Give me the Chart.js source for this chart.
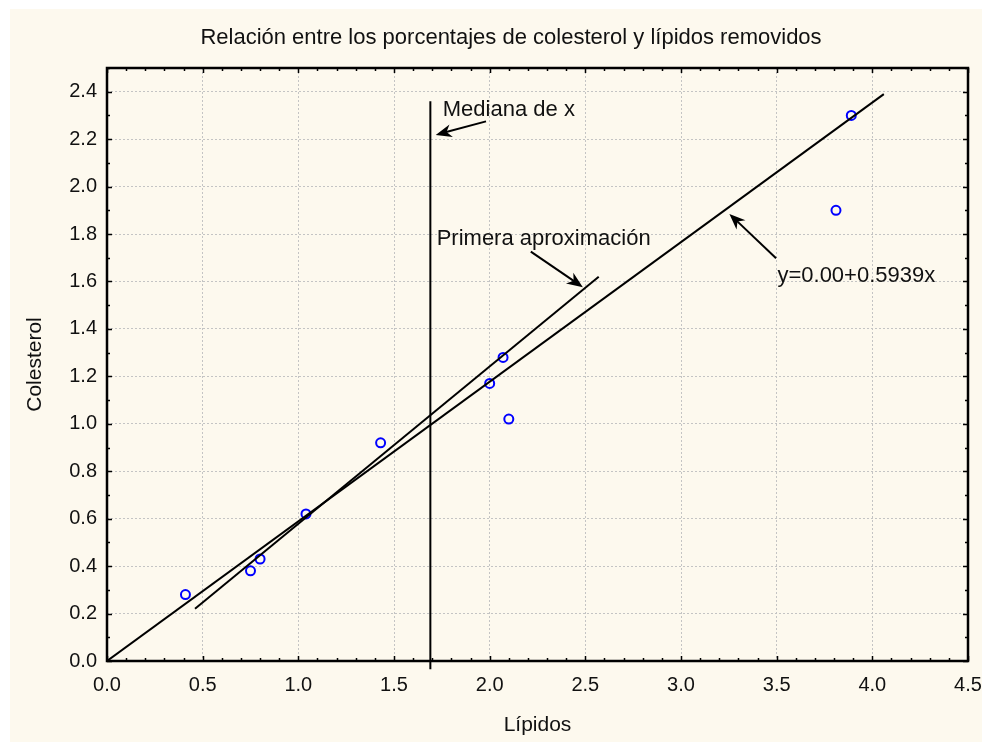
<!DOCTYPE html>
<html lang="es">
<head>
  <meta charset="UTF-8">
  <title>Colesterol vs Lípidos</title>
  <script src="https://cdn.jsdelivr.net/npm/chart.js"></script>
  <style>
    html, body { margin: 0; padding: 0; background: #ffffff; }
    #wrap { position: absolute; left: 10px; top: 9px; width: 972px; height: 733px; background: #fdf9ee; }
  </style>
</head>
<body>
  <div id="wrap"><canvas id="myChart" width="972" height="733"></canvas></div>

  <script>
    // datos
    const lipidos    = [0.41, 0.75, 0.80, 1.04, 1.43, 2.00, 2.07, 2.10, 3.81, 3.89];
    const colesterol = [0.28, 0.38, 0.43, 0.62, 0.92, 1.17, 1.28, 1.02, 1.90, 2.30];

    // recta final y = 0.00 + 0.5939x (extremos del trazo)
    const rectaX = [0, 4.06];
    const rectaY = [0, 2.39];
    // primera aproximacion
    const primeraX = [0.46, 2.57];
    const primeraY = [0.22, 1.62];
    // mediana de x (linea vertical)
    const medianaX = [1.69, 1.69];
    const medianaY = [-0.035, 2.36];

    // etiquetas y flechas (en unidades de los ejes)
    const notaTextos = ['Mediana de x', 'Primera aproximación', 'y=0.00+0.5939x'];
    const notaX      = [1.755, 1.723, 3.504];
    const notaY      = [2.299, 1.752, 1.597];
    const flechaDesdeX = [1.981, 2.215, 3.497];
    const flechaDesdeY = [2.275, 1.726, 1.698];
    const flechaHastaX = [1.718, 2.487, 3.253];
    const flechaHastaY = [2.218, 1.576, 1.885];

    const fuente = 'Liberation Sans, Arial, sans-serif';

    function esMayor(v, paso) {
      const r = v / paso;
      return Math.abs(r - Math.round(r)) < 1e-6;
    }

    function pares(xs, ys) {
      return xs.map((x, i) => ({ x: x, y: ys[i] }));
    }

    // marco, marcas hacia dentro y anotaciones con flechas
    const marcoPlugin = {
      id: 'marco',
      afterDraw(chart) {
        const ctx = chart.ctx;
        const a = chart.chartArea;
        const sx = chart.scales.x, sy = chart.scales.y;
        ctx.save();
        ctx.strokeStyle = '#000';
        ctx.lineWidth = 1.5;
        ctx.beginPath();
        sx.ticks.forEach(t => {
          const px = Math.round(sx.getPixelForValue(t.value)) + 0.5;
          const len = esMayor(t.value, 0.5) ? 5 : 3;
          ctx.moveTo(px, a.bottom); ctx.lineTo(px, a.bottom - len);
          ctx.moveTo(px, a.top); ctx.lineTo(px, a.top + len);
        });
        sy.ticks.forEach(t => {
          const py = Math.round(sy.getPixelForValue(t.value)) + 0.5;
          const len = esMayor(t.value, 0.2) ? 5 : 3;
          ctx.moveTo(a.left, py); ctx.lineTo(a.left + len, py);
          ctx.moveTo(a.right, py); ctx.lineTo(a.right - len, py);
        });
        ctx.stroke();

        ctx.lineWidth = 2.5;
        ctx.strokeRect(a.left, a.top, a.right - a.left, a.bottom - a.top);

        // flechas
        ctx.lineWidth = 2;
        ctx.fillStyle = '#000';
        for (let i = 0; i < notaTextos.length; i++) {
          const x1 = sx.getPixelForValue(flechaDesdeX[i]), y1 = sy.getPixelForValue(flechaDesdeY[i]);
          const x2 = sx.getPixelForValue(flechaHastaX[i]), y2 = sy.getPixelForValue(flechaHastaY[i]);
          const ang = Math.atan2(y2 - y1, x2 - x1);
          const L = 16, W = 6.5;
          ctx.beginPath();
          ctx.moveTo(x1, y1);
          ctx.lineTo(x2 - Math.cos(ang) * 8, y2 - Math.sin(ang) * 8);
          ctx.stroke();
          ctx.save();
          ctx.translate(x2, y2);
          ctx.rotate(ang);
          ctx.beginPath();
          ctx.moveTo(0, 0);
          ctx.lineTo(-L, -W);
          ctx.lineTo(-L * 0.7, 0);
          ctx.lineTo(-L, W);
          ctx.closePath();
          ctx.fill();
          ctx.restore();
        }

        ctx.font = '22px ' + fuente;
        ctx.fillStyle = '#111';
        ctx.textAlign = 'left';
        ctx.textBaseline = 'alphabetic';
        for (let i = 0; i < notaTextos.length; i++) {
          ctx.fillText(notaTextos[i], sx.getPixelForValue(notaX[i]), sy.getPixelForValue(notaY[i]));
        }
        ctx.restore();
      }
    };

    const lineaNegra = {
      type: 'line',
      showLine: true,
      borderColor: '#000',
      borderWidth: 2,
      pointRadius: 0,
      fill: false
    };

    const ctx = document.getElementById('myChart').getContext('2d');
    const myChart = new Chart(ctx, {
      type: 'scatter',
      data: {
        datasets: [
          Object.assign({ label: 'recta', data: pares(rectaX, rectaY) }, lineaNegra),
          Object.assign({ label: 'primera', data: pares(primeraX, primeraY) }, lineaNegra),
          Object.assign({ label: 'mediana', data: pares(medianaX, medianaY), clip: false }, lineaNegra),
          {
            label: 'datos',
            data: pares(lipidos, colesterol),
            pointStyle: 'circle',
            pointRadius: 4.5,
            pointBorderWidth: 2,
            borderColor: '#0000ff',
            backgroundColor: 'rgba(0,0,0,0)'
          }
        ]
      },
      options: {
        responsive: false,
        animation: false,
        devicePixelRatio: 1,
        layout: { padding: { left: 30, right: 0, top: 0, bottom: 0 } },
        plugins: {
          legend: { display: false },
          tooltip: { enabled: false },
          title: {
            display: true,
            text: 'Relación entre los porcentajes de colesterol y lípidos removidos',
            color: '#111',
            font: { family: fuente, size: 22, weight: 'normal' },
            padding: { top: 16, bottom: 16.6 }
          }
        },
        scales: {
          x: {
            type: 'linear',
            min: 0,
            max: 4.5,
            border: { display: false, dash: [2, 2] },
            grid: {
              drawTicks: false,
              color: c => esMayor(c.tick.value, 0.5) ? '#c4c4c4' : 'rgba(0,0,0,0)',
              lineWidth: 1
            },
            ticks: {
              stepSize: 0.1,
              autoSkip: false,
              maxRotation: 0,
              padding: 12,
              color: '#111',
              font: { family: fuente, size: 20 },
              callback: v => esMayor(v, 0.5) ? v.toFixed(1) : ''
            },
            title: {
              display: true,
              text: 'Lípidos',
              color: '#111',
              font: { family: fuente, size: 21 },
              padding: { top: 0, bottom: 4 }
            },
            afterFit: s => { s.height = 81; s.paddingLeft = 0; s.paddingRight = 14; }
          },
          y: {
            type: 'linear',
            min: 0,
            max: 2.5,
            border: { display: false, dash: [2, 2] },
            grid: {
              drawTicks: false,
              color: c => esMayor(c.tick.value, 0.2) ? '#c4c4c4' : 'rgba(0,0,0,0)',
              lineWidth: 1
            },
            ticks: {
              stepSize: 0.1,
              autoSkip: false,
              padding: 10,
              color: '#111',
              font: { family: fuente, size: 20 },
              callback: v => esMayor(v, 0.2) ? v.toFixed(1) : ''
            },
            title: {
              display: true,
              text: 'Colesterol',
              color: '#111',
              font: { family: fuente, size: 21 },
              padding: { top: -17.6, bottom: 0 }
            },
            afterFit: s => { s.width = 67; }
          }
        }
      },
      plugins: [marcoPlugin]
    });
  </script>
</body>
</html>
